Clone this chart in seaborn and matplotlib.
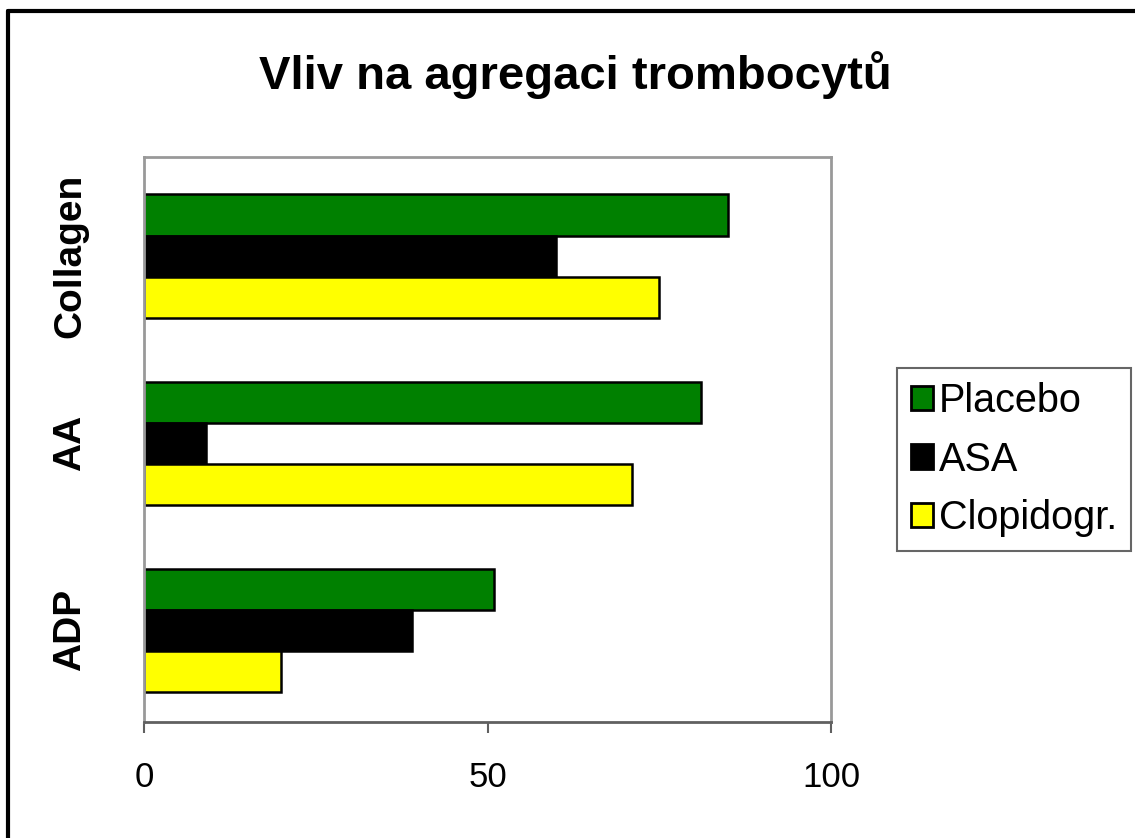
import pandas as pd
import numpy as np
import matplotlib.pyplot as plt
import seaborn as sns
from matplotlib.patches import Rectangle
from matplotlib.lines import Line2D

# data
categories = ['Collagen', 'AA', 'ADP']
series = ['Placebo', 'ASA', 'Clopidogr.']
placebo = [85, 81, 51]
asa = [60, 9, 39]
clopidogr = [75, 71, 20]
x_ticks = [0, 50, 100]

colors = ['#008000', '#000000', '#FFFF00']

df = pd.DataFrame({
    'category': categories * 3,
    'series': [s for s in series for _ in categories],
    'value': placebo + asa + clopidogr,
})

sns.set_style('white')
plt.rcParams['font.family'] = ['Liberation Sans', 'DejaVu Sans']
plt.rcParams['text.color'] = 'black'
plt.rcParams['xtick.color'] = 'black'
plt.rcParams['ytick.color'] = 'black'

fig = plt.figure(figsize=(11.35, 8.38), dpi=100)
ax = fig.add_axes([0.1269, 0.1384, 0.6053, 0.6742])

sns.barplot(data=df, x='value', y='category', hue='series', order=categories,
            hue_order=series, palette=colors, saturation=1, orient='h', width=0.66,
            edgecolor='black', linewidth=1.8, ax=ax)

ax.set_xlim(0, 100)
ax.set_ylim(2.49, -0.53)
ax.set_xticks(x_ticks)
ax.set_xticklabels([str(t) for t in x_ticks], fontsize=25)
ax.tick_params(axis='x', direction='out', length=8, width=1.5, color='#606060',
               labelcolor='black', bottom=True, pad=20)
ax.tick_params(axis='y', length=0, pad=40, labelcolor='black')
for lab in ax.get_yticklabels():
    lab.set_rotation(90)
    lab.set_fontsize(28)
    lab.set_fontweight('bold')
    lab.set_va('center')
ax.set_xlabel('')
ax.set_ylabel('')

for side in ['top', 'right', 'left']:
    ax.spines[side].set_color('#999999')
    ax.spines[side].set_linewidth(2)
ax.spines['bottom'].set_color('#606060')
ax.spines['bottom'].set_linewidth(2)

fig.text(575 / 1135, 1 - 75 / 838, 'Vliv na agregaci trombocytů', ha='center',
         va='center', fontsize=34, fontweight='bold', color='black')

ax.legend_.remove()
handles = [Rectangle((0, 0), 1, 1, facecolor=c, edgecolor='black', linewidth=2)
           for c in colors]
leg = fig.legend(handles, series, loc='center left',
                 bbox_to_anchor=(897 / 1135, 1 - 459.5 / 838),
                 fontsize=28.5, frameon=True, fancybox=False, edgecolor='#404040',
                 handlelength=0.56, handleheight=0.56, handletextpad=0.15,
                 labelspacing=0.52, borderpad=0.35, borderaxespad=0)
leg.get_frame().set_linewidth(1.5)
for t in leg.get_texts():
    t.set_color('black')

# outer chart border: only the left and top edges show in the reference
fig.lines.append(Line2D([8 / 1135, 8 / 1135], [0, 1 - 11.5 / 838],
                        transform=fig.transFigure, color='black', linewidth=3))
fig.lines.append(Line2D([8 / 1135, 1], [1 - 11.5 / 838, 1 - 11.5 / 838],
                        transform=fig.transFigure, color='black', linewidth=3))

fig.savefig('out.png', dpi=100)
